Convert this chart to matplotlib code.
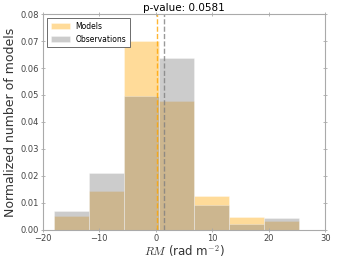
import numpy as np
import matplotlib
matplotlib.use("Agg")
import matplotlib.pyplot as plt

plt.rcParams['mathtext.fontset'] = 'cm'

# bin edges and normalized heights
bin_edges = [-18.1, -11.9, -5.65, 0.55, 6.75, 13.0, 19.2, 25.45]
models = [0.0049, 0.0142, 0.0700, 0.0479, 0.0125, 0.0046, 0.0032]
observations = [0.0069, 0.0211, 0.0497, 0.0638, 0.0091, 0.0020, 0.0044]
models_median = 0.13
obs_median = 1.37
p_value = 0.0581

centers = [(a + b) / 2 for a, b in zip(bin_edges[:-1], bin_edges[1:])]

fig = plt.figure(figsize=(3.43, 2.58), dpi=100)
ax = fig.add_axes([0.125, 0.11, 0.823, 0.835])

ax.hist(centers, bins=bin_edges, weights=models, color='orange', alpha=0.4,
        edgecolor='white', linewidth=0.5, label='Models')
ax.hist(centers, bins=bin_edges, weights=observations, color='gray', alpha=0.4,
        edgecolor='white', linewidth=0.5, label='Observations')

ax.axvline(models_median, color='orange', linestyle='--', linewidth=1, alpha=0.8)
ax.axvline(obs_median, color='gray', linestyle='--', linewidth=1, alpha=0.8)

ax.set_xlim(-20, 30)
ax.set_ylim(0, 0.08)
ax.set_xticks([-20, -10, 0, 10, 20, 30])
ax.set_yticks(np.arange(0, 0.081, 0.01))
ax.set_yticklabels([f"{v:.2f}" for v in np.arange(0, 0.081, 0.01)])

for s in ax.spines.values():
    s.set_color('#aaaaaa')
    s.set_linewidth(0.8)
ax.tick_params(direction='inout', length=3, width=0.6, color='#aaaaaa',
               labelsize=6, labelcolor='#444444', top=True, right=True, pad=1.5)

ax.set_xlabel(r"$RM$ (rad m$^{-2}$)", fontsize=8.5, color='#333333', labelpad=0)
ax.set_ylabel("Normalized number of models", fontsize=9, color='#333333', labelpad=2)
ax.set_title(f"p-value: {p_value}", fontsize=7.5, pad=2)

leg = ax.legend(loc='upper left', fontsize=5.5, fancybox=False, framealpha=1,
                borderpad=0.5, handlelength=2.5)
leg.get_frame().set_edgecolor('#555555')
leg.get_frame().set_linewidth(0.6)

fig.savefig("out.png", dpi=100)
